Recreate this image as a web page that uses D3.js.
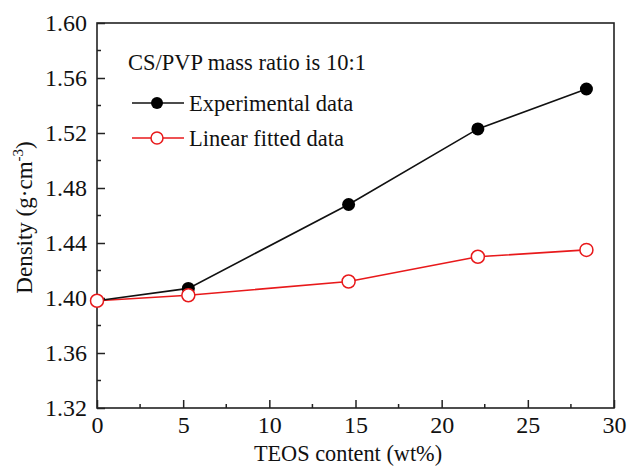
<!DOCTYPE html>
<html><head><meta charset="utf-8">
<script src="https://cdn.jsdelivr.net/npm/d3@7"></script>
<style>body{margin:0;background:#fff}svg{display:block}svg text{font-family:"Times New Roman","Liberation Serif",Times,serif !important;fill:#111}</style>
</head><body><svg id="c" width="629" height="470"></svg>
<script>
const teos = [0, 5.3, 14.6, 22.1, 28.4];
const experimental = [1.398, 1.407, 1.468, 1.523, 1.552];
const fitted = [1.398, 1.402, 1.412, 1.430, 1.435];
const xTicks = [0, 5, 10, 15, 20, 25, 30];
const yTicks = [1.32, 1.36, 1.40, 1.44, 1.48, 1.52, 1.56, 1.60];

const FONT = "'Times New Roman', 'Liberation Serif', serif";
const svg = d3.select("#c");
const L = 97, R = 614, T = 23, B = 408;
const x = d3.scaleLinear().domain([0, 30]).range([L, R]);
const y = d3.scaleLinear().domain([1.32, 1.60]).range([B, T]);

// frame
svg.append("rect").attr("x", L).attr("y", T).attr("width", R - L).attr("height", B - T)
  .attr("fill", "none").attr("stroke", "#222").attr("stroke-width", 1.6);

// y axis
const ya = svg.append("g").attr("transform", `translate(${L},0)`)
  .call(d3.axisLeft(y).tickValues(yTicks).tickFormat(d3.format(".2f")).tickSize(-8).tickPadding(10));
ya.attr("font-family", FONT);
ya.select(".domain").remove();
ya.selectAll("line").attr("stroke", "#222").attr("stroke-width", 1.5);
ya.selectAll("text").attr("font-size", 24).attr("fill", "#111");
const yMinor = d3.range(0, 7).map(i => 1.34 + i * 0.04);
svg.append("g").selectAll("line").data(yMinor).join("line")
  .attr("x1", L).attr("x2", L + 4).attr("y1", d => y(d)).attr("y2", d => y(d))
  .attr("stroke", "#222").attr("stroke-width", 1.5);

// x axis
const xa = svg.append("g").attr("transform", `translate(0,${B})`)
  .call(d3.axisBottom(x).tickValues(xTicks).tickFormat(d3.format("d")).tickSize(-8).tickPadding(8));
xa.attr("font-family", FONT);
xa.select(".domain").remove();
xa.selectAll("line").attr("stroke", "#222").attr("stroke-width", 1.5);
xa.selectAll("text").attr("font-size", 24).attr("fill", "#111");
const xMinor = d3.range(0, 6).map(i => 2.5 + i * 5);
svg.append("g").selectAll("line").data(xMinor).join("line")
  .attr("x1", d => x(d)).attr("x2", d => x(d)).attr("y1", B).attr("y2", B - 4)
  .attr("stroke", "#222").attr("stroke-width", 1.5);

// axis titles
svg.append("text").attr("x", 348).attr("y", 461).attr("text-anchor", "middle")
  .attr("font-size", 22.3).text("TEOS content (wt%)");
const yl = svg.append("text").attr("transform", `translate(32,${(T + B) / 2 + 2}) rotate(-90)`)
  .attr("text-anchor", "middle").attr("font-size", 23);
yl.append("tspan").text("Density (g·cm");
yl.append("tspan").attr("dy", -9).attr("font-size", 15).text("-3");
yl.append("tspan").attr("dy", 9).text(")");

// series
const line = d3.line().x((d, i) => x(teos[i])).y(d => y(d));
svg.append("path").datum(fitted).attr("d", line).attr("fill", "none").attr("stroke", "#e8191b").attr("stroke-width", 1.6);
svg.append("path").datum(experimental).attr("d", line).attr("fill", "none").attr("stroke", "#111").attr("stroke-width", 1.6);
svg.append("g").selectAll("circle").data(experimental).join("circle")
  .attr("cx", (d, i) => x(teos[i])).attr("cy", d => y(d)).attr("r", 6.5).attr("fill", "#000");
svg.append("g").selectAll("circle").data(fitted).join("circle")
  .attr("cx", (d, i) => x(teos[i])).attr("cy", d => y(d)).attr("r", 6.5)
  .attr("fill", "#fff").attr("stroke", "#e8191b").attr("stroke-width", 1.5);

// legend
svg.append("text").attr("x", 128).attr("y", 70).attr("font-size", 22.5).text("CS/PVP mass ratio is 10:1");
const leg = [{label: "Experimental data", color: "#111", fill: "#000", stroke: "none", y: 103},
             {label: "Linear fitted data", color: "#e8191b", fill: "#fff", stroke: "#e8191b", y: 138}];
leg.forEach(l => {
  svg.append("line").attr("x1", 132).attr("x2", 184).attr("y1", l.y).attr("y2", l.y)
    .attr("stroke", l.color).attr("stroke-width", 1.6);
  svg.append("circle").attr("cx", 157).attr("cy", l.y).attr("r", 6)
    .attr("fill", l.fill).attr("stroke", l.stroke).attr("stroke-width", 1.5);
  svg.append("text").attr("x", 189).attr("y", l.y + 8).attr("font-size", 22.5).text(l.label);
});
</script></body></html>
